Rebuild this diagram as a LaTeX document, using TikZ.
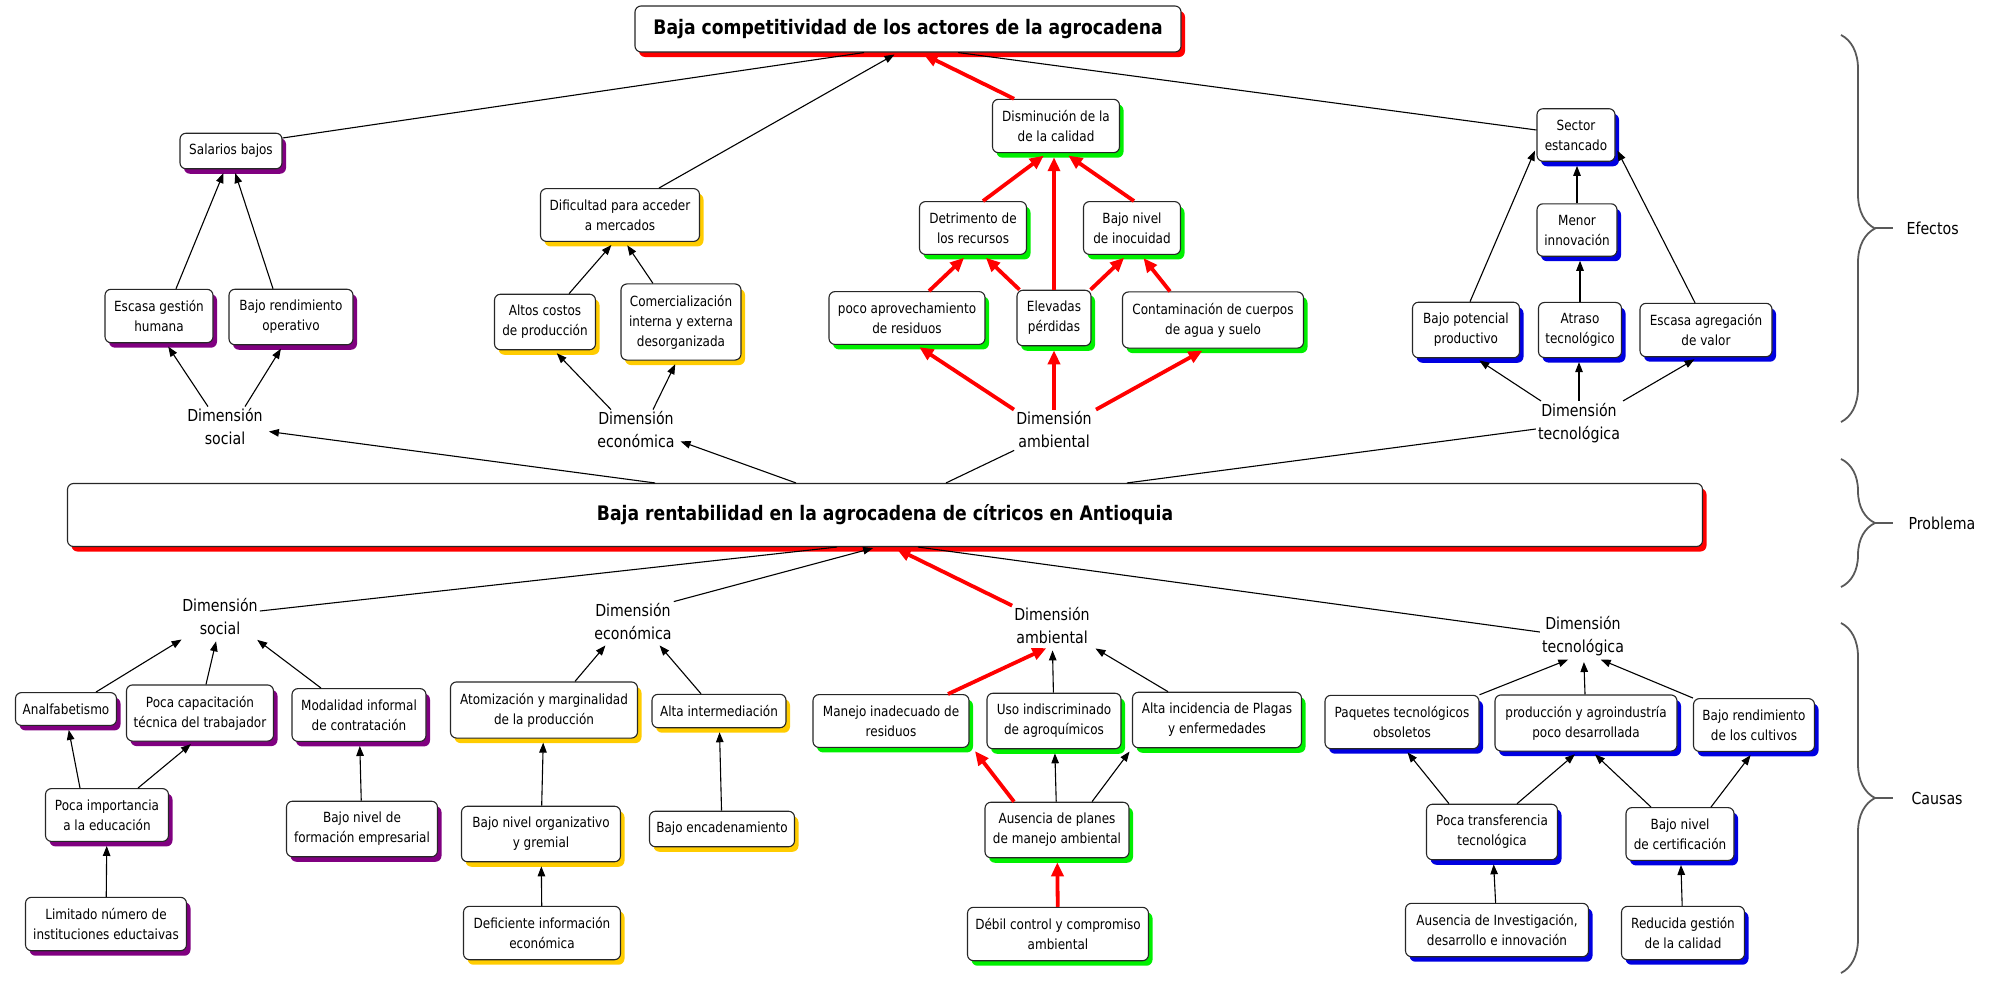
\documentclass[tikz,border=0pt]{standalone}
\usepackage{fontspec}
\setmainfont{DejaVu Sans}[FakeStretch=0.86]
\usetikzlibrary{arrows.meta,shadows,decorations.pathreplacing}
\definecolor{soc}{RGB}{128,0,128}
\definecolor{eco}{RGB}{255,204,0}
\definecolor{amb}{RGB}{0,240,0}
\definecolor{tec}{RGB}{0,0,225}
\definecolor{rojo}{RGB}{255,0,0}
\newcommand{\fcaja}{\fontsize{14}{20}\selectfont}
\newcommand{\fdim}{\fontsize{16.5}{23}\selectfont}
\newcommand{\ftit}{\fontsize{20}{24}\selectfont\bfseries}
\tikzset{>={Triangle[length=10pt,width=7.5pt]}}
\tikzset{
  caja/.style 2 args={draw=black!85, line width=1.1pt, fill=white, rounded corners=6pt,
    align=center, font=\fcaja, inner xsep=3pt, inner ysep=11pt, minimum width=#2,
    drop shadow={fill=#1, opacity=1, shadow xshift=4pt, shadow yshift=-5pt}},
  dim/.style={align=center, font=\fdim, inner sep=2pt},
  flecha/.style={->, line width=1.1pt, shorten >=4pt},
  linea/.style={line width=1.1pt},
  roja/.style={-{Triangle[length=14pt,width=12pt]}, draw=rojo, line width=3.8pt, shorten >=4pt},
  llave/.style={draw=black!65, line width=1.8pt},
  etiq/.style={font=\fdim, anchor=west},
}

\begin{document}
\begin{tikzpicture}[x=1pt,y=-1pt]
  \useasboundingbox (0,0) rectangle (1989,993);
  % efectos
  \node[caja={rojo}{546}, font=\ftit, minimum height=46] (tit) at (908,29) {Baja competitividad de los actores de la agrocadena};
  \node[caja={soc}{102}] (sal) at (231,151) {Salarios bajos};
  \node[caja={soc}{108}] (esc) at (159,316) {Escasa gestión\\humana};
  \node[caja={soc}{124}] (bro) at (291,317) {Bajo rendimiento\\operativo};
  \node[dim] (dsoc1) at (225,427) {Dimensión\\social};
  \node[caja={eco}{159}] (dif) at (620,215) {Dificultad para acceder\\a mercados};
  \node[caja={eco}{101}] (alt) at (545,322) {Altos costos\\de producción};
  \node[caja={eco}{120}] (com) at (681,322) {Comercialización\\interna y externa\\desorganizada};
  \node[dim] (deco1) at (636,430) {Dimensión\\económica};
  \node[caja={amb}{127}] (dis) at (1056,126) {Disminución de la\\de la calidad};
  \node[caja={amb}{107}] (det) at (973,228) {Detrimento de\\los recursos};
  \node[caja={amb}{97}] (ino) at (1132,228) {Bajo nivel\\de inocuidad};
  \node[caja={amb}{156}] (poc) at (907,318) {poco aprovechamiento\\de residuos};
  \node[caja={amb}{74}] (elv) at (1054,318) {Elevadas\\pérdidas};
  \node[caja={amb}{181}] (con) at (1213,320) {Contaminación de cuerpos\\de agua y suelo};
  \node[dim] (damb1) at (1054,430) {Dimensión\\ambiental};
  \node[caja={tec}{78}] (sec) at (1576,135) {Sector\\estancado};
  \node[caja={tec}{80}] (men) at (1577,230) {Menor\\innovación};
  \node[caja={tec}{107}] (bpo) at (1466,330) {Bajo potencial\\productivo};
  \node[caja={tec}{83}] (atr) at (1580,330) {Atraso\\tecnológico};
  \node[caja={tec}{132}] (eag) at (1706,330) {Escasa agregación\\de valor};
  \node[dim] (dtec1) at (1579,423) {Dimensión\\tecnológica};
  % problema
  \node[caja={rojo}{1635}, font=\ftit, minimum height=63] (pro) at (885,515) {Baja rentabilidad en la agrocadena de cítricos en Antioquia};
  % causas
  \node[dim] (dsoc2) at (220,617) {Dimensión\\social};
  \node[caja={soc}{101}] (anf) at (66,709) {Analfabetismo};
  \node[caja={soc}{147}] (pcap) at (200,713) {Poca capacitación\\técnica del trabajador};
  \node[caja={soc}{134}] (mod) at (359,715) {Modalidad informal\\de contratación};
  \node[caja={soc}{123}] (pimp) at (107,815) {Poca importancia\\a la educación};
  \node[caja={soc}{151}] (bnf) at (362,829) {Bajo nivel de\\formación empresarial};
  \node[caja={soc}{161}] (lim) at (106,924) {Limitado número de\\instituciones eductaivas};
  \node[dim] (deco2) at (633,622) {Dimensión\\económica};
  \node[caja={eco}{187}] (atm) at (544,710) {Atomización y marginalidad\\de la producción};
  \node[caja={eco}{159}] (bno) at (541,834) {Bajo nivel organizativo\\y gremial};
  \node[caja={eco}{157}] (def) at (542,933) {Deficiente información\\económica};
  \node[caja={eco}{134}] (aint) at (719,711) {Alta intermediación};
  \node[caja={eco}{145}] (benc) at (722,829) {Bajo encadenamiento};
  \node[dim] (damb2) at (1052,626) {Dimensión\\ambiental};
  \node[caja={amb}{156}] (man) at (891,721) {Manejo inadecuado de\\residuos};
  \node[caja={amb}{134}] (uso) at (1054,721) {Uso indiscriminado\\de agroquímicos};
  \node[caja={amb}{169}] (aip) at (1217,720) {Alta incidencia de Plagas\\y enfermedades};
  \node[caja={amb}{144}] (aus) at (1057,830) {Ausencia de planes\\de manejo ambiental};
  \node[caja={amb}{181}] (deb) at (1058,934) {Débil control y compromiso\\ambiental};
  \node[dim] (dtec2) at (1583,636) {Dimensión\\tecnológica};
  \node[caja={tec}{154}] (paq) at (1402,722) {Paquetes tecnológicos\\obsoletos};
  \node[caja={tec}{182}] (prd) at (1586,723) {producción y agroindustría\\poco desarrollada};
  \node[caja={tec}{121}] (brc) at (1754,725) {Bajo rendimiento\\de los cultivos};
  \node[caja={tec}{131}] (ptr) at (1492,832) {Poca transferencia\\tecnológica};
  \node[caja={tec}{108}] (bce) at (1680,834) {Bajo nivel\\de certificación};
  \node[caja={tec}{183}] (ain) at (1497,930) {Ausencia de Investigación,\\desarrollo e innovación};
  \node[caja={tec}{123}] (rgc) at (1683,933) {Reducida gestión\\de la calidad};
  % llaves
  \node[etiq] (efe) at (1903,228) {Efectos};
  \node[etiq] (prb) at (1905,523) {Problema};
  \node[etiq] (cau) at (1908,798) {Causas};
  \coordinate (tefe) at (1875,228);
  \coordinate (tprb) at (1875,523);
  \coordinate (tcau) at (1875,798);

  \draw[flecha] ([xshift=17pt]esc.north) -- ([xshift=-6pt]sal.south);
  \draw[flecha] ([xshift=-18pt]bro.north) -- ([xshift=3pt]sal.south);
  \draw[flecha] ([xshift=-17pt]dsoc1.north) -- ([xshift=7pt]esc.south);
  \draw[flecha] ([xshift=20pt]dsoc1.north) -- ([xshift=-8pt]bro.south);
  \draw[flecha] ([xshift=-230pt]pro.north) -- ([yshift=-4pt]dsoc1.east);
  \draw[flecha] ([xshift=-89pt]pro.north) -- ([yshift=-10pt]deco1.east);
  \draw[linea] ([xshift=61pt]pro.north) -- (damb1.south west);
  \draw[linea] ([xshift=242pt]pro.north) -- ([yshift=-6pt]dtec1.west);
  \draw[linea] ([yshift=13pt]sal.east) -- ([xshift=-44pt]tit.south);
  \draw[flecha] ([xshift=39pt]dif.north) -- ([xshift=-10pt]tit.south);
  \draw[roja] ([xshift=-42pt]dis.north) -- ([xshift=12pt]tit.south);
  \draw[linea] ([yshift=5pt]sec.west) -- ([xshift=50pt]tit.south);
  \draw[flecha] ([xshift=-25pt]deco1.north) -- ([xshift=9pt]alt.south);
  \draw[flecha] ([xshift=17pt]deco1.north) -- ([xshift=-4pt]com.south);
  \draw[flecha] ([xshift=24pt]alt.north) -- ([xshift=-6pt]dif.south);
  \draw[flecha] ([xshift=-28pt]com.north) -- ([xshift=5pt]dif.south);
  \draw[roja] ([xshift=-40pt]damb1.north) -- ([xshift=9pt]poc.south);
  \draw[roja] (damb1.north) -- (elv.south);
  \draw[roja] ([xshift=42pt]damb1.north) -- ([xshift=-7pt]con.south);
  \draw[roja] ([xshift=22pt]poc.north) -- ([xshift=-6pt]det.south);
  \draw[roja] ([xshift=3pt]elv.north west) -- ([xshift=10pt]det.south);
  \draw[roja] ([xshift=-1pt]elv.north east) -- ([xshift=-5pt]ino.south);
  \draw[roja] ([xshift=-43pt]con.north) -- ([xshift=9pt]ino.south);
  \draw[roja] ([xshift=10pt]det.north) -- ([xshift=-9pt]dis.south);
  \draw[roja] (elv.north) -- (elv.north |- dis.south);
  \draw[roja] ([xshift=2pt]ino.north) -- ([xshift=9pt]dis.south);
  \draw[flecha] ([xshift=-38pt]dtec1.north) -- ([xshift=10pt]bpo.south);
  \draw[flecha] (dtec1.north) -- (dtec1.north |- atr.south);
  \draw[flecha] ([xshift=44pt]dtec1.north) -- ([xshift=-8pt]eag.south);
  \draw[flecha] ([xshift=4pt]bpo.north) -- ([yshift=-12pt]sec.west);
  \draw[flecha] (atr.north) -- (atr.north |- men.south);
  \draw[flecha] (men.north) -- (men.north |- sec.south);
  \draw[flecha] ([xshift=-11pt]eag.north) -- ([yshift=-12pt]sec.east);

  \draw[linea] ([yshift=6pt]dsoc2.east) -- ([xshift=-48pt]pro.south);
  \draw[flecha] (deco2.north east) -- ([xshift=-8pt]pro.south);
  \draw[roja] (damb2.north west) -- ([xshift=8pt]pro.south);
  \draw[linea] ([xshift=33pt]pro.south) -- ([yshift=4pt]dtec2.west);
  \draw[flecha] ([xshift=30pt]anf.north) -- ([xshift=-35pt]dsoc2.south);
  \draw[flecha] ([xshift=6pt]pcap.north) -- ([xshift=-3pt]dsoc2.south);
  \draw[flecha] ([xshift=-38pt]mod.north) -- ([xshift=34pt]dsoc2.south);
  \draw[flecha] ([xshift=-27pt]pimp.north) -- ([xshift=2pt]anf.south);
  \draw[flecha] ([xshift=31pt]pimp.north) -- ([xshift=-6pt]pcap.south);
  \draw[flecha] (lim) -- (pimp);
  \draw[flecha] (bnf) -- (mod);
  \draw[flecha] ([xshift=31pt]atm.north) -- ([xshift=-25pt]deco2.south);
  \draw[flecha] ([xshift=-18pt]aint.north) -- ([xshift=24pt]deco2.south);
  \draw[flecha] (bno) -- (atm);
  \draw[flecha] (def) -- (bno);
  \draw[flecha] (benc) -- (aint);
  \draw[roja] ([xshift=57pt]man.north) -- ([xshift=-2pt]damb2.south);
  \draw[flecha] (uso) -- (damb2);
  \draw[flecha] ([xshift=-49pt]aip.north) -- ([xshift=40pt]damb2.south);
  \draw[roja] ([xshift=-43pt]aus.north) -- ([xshift=3pt]man.south east);
  \draw[flecha] (aus) -- (uso);
  \draw[flecha] ([xshift=35pt]aus.north) -- (aip.south west);
  \draw[roja] (deb) -- (aus);
  \draw[flecha] (paq.north east) -- ([xshift=-11pt]dtec2.south);
  \draw[flecha] (prd) -- (dtec2);
  \draw[flecha] (brc.north west) -- ([xshift=14pt]dtec2.south);
  \draw[flecha] ([xshift=-43pt]ptr.north) -- ([xshift=3pt]paq.south);
  \draw[flecha] ([xshift=25pt]ptr.north) -- ([xshift=-8pt]prd.south);
  \draw[flecha] ([xshift=-29pt]bce.north) -- ([xshift=6pt]prd.south);
  \draw[flecha] ([xshift=31pt]bce.north) -- ([xshift=-1pt]brc.south);
  \draw[flecha] (ain) -- (ptr);
  \draw[flecha] (rgc) -- (bce);

  \draw[llave, decorate, decoration={brace, amplitude=34pt}] (1841,35) -- (1841,422);
  \draw[llave] (tefe) -- ([xshift=-10pt]efe.west);
  \draw[llave, decorate, decoration={brace, amplitude=34pt}] (1841,459) -- (1841,587);
  \draw[llave] (tprb) -- ([xshift=-12pt]prb.west);
  \draw[llave, decorate, decoration={brace, amplitude=34pt}] (1841,623) -- (1841,973);
  \draw[llave] (tcau) -- ([xshift=-15pt]cau.west);
\end{tikzpicture}
\end{document}
